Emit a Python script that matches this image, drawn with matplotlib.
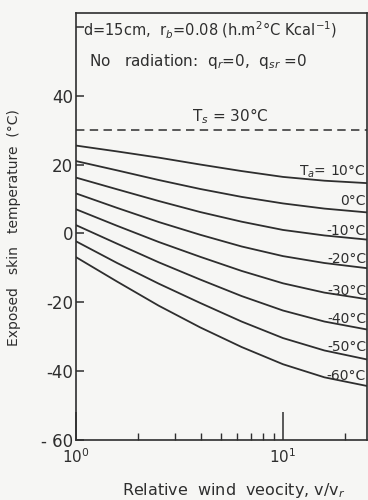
import matplotlib
matplotlib.use("Agg")
import matplotlib.pyplot as plt
import numpy as np

# ---- data ----
wind = [1.0, 1.58, 2.51, 3.98, 6.31, 10.0, 15.85, 25.4]
air_temps = ["T$_a$= 10°C", "0°C", "-10°C", "-20°C", "-30°C", "-40°C", "-50°C", "-60°C"]
skin_10 = [25.5, 23.8, 22.0, 20.0, 18.1, 16.4, 15.3, 14.6]
skin_0 = [21.0, 18.3, 15.5, 12.9, 10.6, 8.7, 7.2, 6.1]
skin_m10 = [16.2, 12.8, 9.4, 6.2, 3.4, 1.0, -0.6, -1.8]
skin_m20 = [11.6, 7.4, 3.3, -0.4, -3.8, -6.6, -8.6, -10.1]
skin_m30 = [7.0, 2.2, -2.5, -6.8, -10.9, -14.5, -17.2, -19.1]
skin_m40 = [2.4, -3.0, -8.4, -13.4, -18.2, -22.4, -25.6, -27.9]
skin_m50 = [-2.3, -8.6, -14.6, -20.2, -25.6, -30.4, -34.0, -36.6]
skin_m60 = [-6.9, -14.0, -21.0, -27.3, -33.0, -38.0, -41.8, -44.3]
series = [skin_10, skin_0, skin_m10, skin_m20, skin_m30, skin_m40, skin_m50, skin_m60]
label_y = [18.0, 9.3, 0.6, -7.5, -16.8, -24.9, -33.0, -41.4]
ts_value = 30
yticks = [-60, -40, -20, 0, 20, 40, 60]
ytick_labels = ["- 60", "-40", "-20", "0", "20", "40", ""]

ink = "#2e2e2e"
bg = "#f6f6f4"

fig = plt.figure(figsize=(3.68, 5.0), dpi=100, facecolor=bg)
ax = fig.add_axes([76/368, 60/500, (367-76)/368, (440-13)/500], facecolor=bg)
ax.set_xscale("log")
xmax = 10 ** ((367 - 76) / 207)
ax.set_xlim(1, xmax)
ax.set_ylim(-60, 64)

for s in series:
    ax.plot(wind, s, color=ink, lw=1.3, solid_capstyle="round", solid_joinstyle="round")

ax.axhline(ts_value, color=ink, lw=1.1, dashes=(5.5, 3.5))

lx = 10 ** ((366 - 76) / 207)
for t, yv in zip(air_temps, label_y):
    ax.text(lx, yv, t, ha="right", va="center", fontsize=10, color=ink)

ax.text(3.64, 34.0, "T$_s$ = 30°C", ha="left", va="center", fontsize=11, color=ink)
ax.text(1.08, 59, "d=15cm,  r$_b$=0.08 (h.m$^2$°C Kcal$^{-1}$)", ha="left", va="center",
        fontsize=10.5, color=ink)
ax.text(1.16, 50, "No   radiation:  q$_r$=0,  q$_{sr}$ =0", ha="left", va="center",
        fontsize=11, color=ink)

for sp in ax.spines.values():
    sp.set_color(ink)
    sp.set_linewidth(1.2)

ax.set_yticks(yticks)
ax.set_yticklabels(ytick_labels)
ax.tick_params(axis="y", direction="in", length=6, width=1.1, colors=ink, labelsize=12, pad=2)
ax.set_xticks([1, 10])
ax.set_xticklabels(["$10^0$", "$10^1$"])
ax.xaxis.set_minor_locator(matplotlib.ticker.LogLocator(base=10, subs=np.arange(2, 10)))
ax.xaxis.set_minor_formatter(matplotlib.ticker.NullFormatter())
ax.tick_params(axis="x", which="major", direction="in", length=20, width=1.1, colors=ink,
               labelsize=11, pad=5)
ax.tick_params(axis="x", which="minor", direction="in", length=5, width=1.0, colors=ink)

fig.text(234/368, 1 - 490/500, "Relative  wind  veocity, v/v$_r$", ha="center", va="center",
         fontsize=11.5, color=ink)
fig.text(14/368, 1 - 228/500, "Exposed   skin   temperature  (°C)", ha="center", va="center",
         rotation=90, fontsize=10, color=ink)

fig.savefig("out.png", dpi=100, facecolor=bg)
